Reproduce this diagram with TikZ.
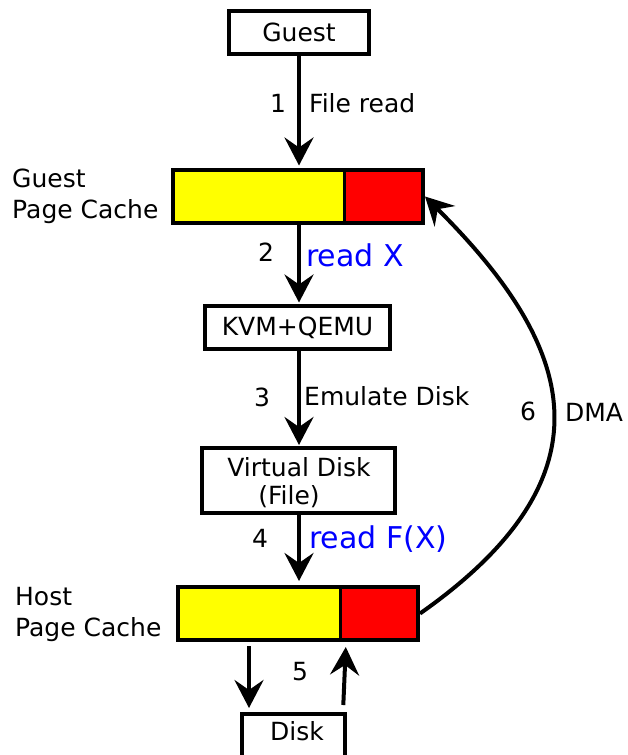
\documentclass[tikz,border=0pt]{standalone}
\usepackage{fontspec}
\setmainfont{DejaVu Sans}
\usetikzlibrary{arrows.meta,calc}
\definecolor{cyel}{RGB}{255,255,0}
\definecolor{cred}{RGB}{255,0,0}
\definecolor{cblue}{RGB}{0,0,255}
\begin{document}
\begin{tikzpicture}[x=1pt,y=-1pt,
  box/.style={draw=black, line width=4pt, fill=white, inner sep=0pt, font=\fontsize{25}{31}\selectfont},
  cachebox/.style={draw=black, line width=4pt, fill=cyel, inner sep=0pt},
  redpart/.style={draw=black, line width=3pt, fill=cred, inner sep=0pt, outer sep=0pt},
  arr/.style={line width=4pt, -{Stealth[length=28pt,width=29pt,inset=10pt]}},
  lbl/.style={font=\fontsize{25}{31}\selectfont, inner sep=0pt},
  bluelbl/.style={font=\fontsize{30}{34}\selectfont, text=cblue, inner sep=0pt}]
\useasboundingbox (0,0) rectangle (627,755);

% nodes
\node[box, minimum width=140pt, minimum height=43pt] (guest) at (299,32.5) {Guest};
\node[cachebox, minimum width=250pt, minimum height=53pt] (gcache) at (298,196.5) {};
\node[redpart, anchor=north west, minimum width=79pt, minimum height=53pt] (gred) at (344,170) {};
\draw[line width=4pt] (gcache.north west) ++(2,2) rectangle ($(gcache.south east)+(-2,-2)$);
\node[box, minimum width=185pt, minimum height=43pt] (kvm) at (297.5,327.5) {KVM+QEMU};
\node[box, minimum width=193pt, minimum height=65pt] (vdisk) at (298.5,480.5) {};
\node[lbl] at (299,467) {Virtual Disk};
\node[lbl] at (289,497) {(File)};
\node[cachebox, minimum width=240pt, minimum height=53pt] (hcache) at (298,613.5) {};
\node[redpart, anchor=north west, minimum width=78pt, minimum height=53pt] (hred) at (340,587) {};
\draw[line width=4pt] (hcache.north west) ++(2,2) rectangle ($(hcache.south east)+(-2,-2)$);
\node[box, anchor=north, minimum width=103pt, minimum height=46pt] (disk) at (293.5,712) {};
\node[lbl] at (297,731) {Disk};

% side labels
\node[lbl, align=left, anchor=west] (gpc) at (12,196) {Guest\\Page Cache};
\node[lbl, align=left, anchor=west] (hpc) at (15,614.5) {Host\\Page Cache};

% arrows
\draw[arr, shorten >=2.5pt] (guest.south) -- (guest.south |- gcache.north);
\draw[arr, shorten >=1.5pt] (guest.south |- gcache.south) -- (guest.south |- kvm.north);
\draw[arr, shorten >=1pt] (guest.south |- kvm.south) -- (guest.south |- vdisk.north);
\draw[arr, shorten >=4pt] (guest.south |- vdisk.south) -- (guest.south |- hcache.north);
\draw[arr, shorten <=4pt, shorten >=4pt] ([xshift=-49pt]hcache.south) -- ([xshift=-49pt]hcache.south |- disk.north);
\draw[arr, shorten <=7pt, shorten >=5pt] ([xshift=49.5pt]disk.north) -- ([xshift=48pt]hcache.south);
\draw[arr] (hcache.east) .. controls (623,471) and (569,340) .. (gcache.east);

% arrow labels
\node[lbl] at (278,103) {1};
\node[lbl, anchor=west] at (309,103) {File read};
\node[lbl] at (266,252) {2};
\node[bluelbl, anchor=west] at (306,255) {read X};
\node[lbl] at (262,397) {3};
\node[lbl, anchor=west] at (304,396) {Emulate Disk};
\node[lbl] at (260,538) {4};
\node[bluelbl, anchor=west] at (309,539) {read F(X)};
\node[lbl] at (300,672) {5};
\node[lbl] at (528,411) {6};
\node[lbl] at (594,412) {DMA};
\end{tikzpicture}
\end{document}
